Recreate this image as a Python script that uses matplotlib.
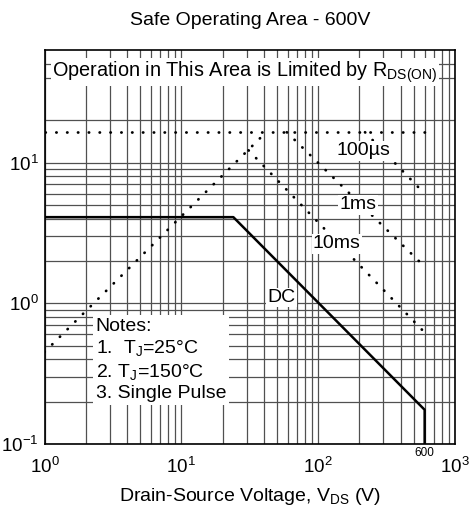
import matplotlib
matplotlib.use("Agg")
import matplotlib.pyplot as plt
from matplotlib.ticker import FixedLocator, LogLocator, NullFormatter

plt.rcParams['font.family'] = ['Liberation Sans', 'DejaVu Sans']
plt.rcParams['mathtext.fontset'] = 'custom'
plt.rcParams['mathtext.rm'] = 'Liberation Sans'
plt.rcParams['mathtext.it'] = 'Liberation Sans:italic'
plt.rcParams['axes.unicode_minus'] = False

# boundaries: drain-source voltage (V) vs drain current (A)
rds_v = [1, 41.6]
rds_i = [0.45, 16.4]
idm_v = [1, 600]
idm_i = [16.4, 16.4]
us100_v = [220, 600]
us100_i = [16.4, 6.0]
ms1_v = [59, 600]
ms1_i = [16.4, 1.82]
ms10_v = [31, 600]
ms10_i = [12.2, 0.62]
dc_v = [1, 24, 600, 600]
dc_i = [4.09, 4.09, 0.175, 0.1]

curve_labels = ["100µs", "1ms", "10ms", "DC"]
label_v = [213, 196, 137, 54]
label_i = [12.1, 5.0, 2.64, 1.1]

notes = ["Notes:", "1.  T$_{\\rm J}$=25°C", "2. T$_{\\rm J}$=150°C", "3. Single Pulse"]

fig = plt.figure(figsize=(4.71, 5.08), dpi=100)
ax = fig.add_axes([44.5 / 471, 64 / 508, 410.5 / 471, 394 / 508])
ax.set_xscale('log')
ax.set_yscale('log')
ax.set_xlim(1, 1000)
ax.set_ylim(0.1, 63)

ax.xaxis.set_minor_locator(LogLocator(base=10, subs=range(2, 10)))
ax.yaxis.set_minor_locator(FixedLocator([0.2, 0.3, 0.4, 0.5, 0.6, 0.7, 0.8, 0.9,
                                         2, 3, 4, 5, 6, 7, 8, 9, 20, 40, 50]))
ax.xaxis.set_minor_formatter(NullFormatter())
ax.yaxis.set_minor_formatter(NullFormatter())
ax.grid(True, which='both', color='#505050', linewidth=0.9)
ax.set_axisbelow(True)
ax.tick_params(which='both', length=0)
ax.tick_params(axis='x', pad=9, labelsize=13.5)
ax.tick_params(axis='y', pad=4, labelsize=13.5)
for sp in ax.spines.values():
    sp.set_linewidth(1.2)

dots = dict(color='black', linewidth=2.0, linestyle=(0, (0.1, 3.8)),
            dash_capstyle='round', zorder=3)
ax.plot(rds_v, rds_i, **dots)
ax.plot(idm_v, idm_i, **dots)
ax.plot(us100_v, us100_i, **dots)
ax.plot(ms1_v, ms1_i, **dots)
ax.plot(ms10_v, ms10_i, **dots)
ax.plot(dc_v, dc_i, color='black', linewidth=1.8, zorder=4)

box = dict(facecolor='white', edgecolor='none', pad=1.0)
for lab, v, i in zip(curve_labels, label_v, label_i):
    ax.text(v, i, lab, fontsize=14, ha='center', va='center', bbox=box, zorder=5)

ax.text(1.14, 44, "Operation in This Area is Limited by R$_{\\rm DS(ON)}$",
        fontsize=14.3, ha='left', va='center', bbox=box, zorder=5)

ax.text(2.36, 0.79, "\n".join(notes), fontsize=14, ha='left', va='top',
        linespacing=1.25, bbox=dict(facecolor='white', edgecolor='none', pad=2.0),
        zorder=5)

ax.text(600, -0.008, "600", fontsize=8.5, ha='center', va='top',
        transform=ax.get_xaxis_transform())

ax.set_xlabel("Drain-Source Voltage, V$_{\\rm DS}$ (V)", fontsize=14, labelpad=7)
ax.set_title("Safe Operating Area - 600V", fontsize=14, pad=18)

fig.savefig("out.png", dpi=100)
